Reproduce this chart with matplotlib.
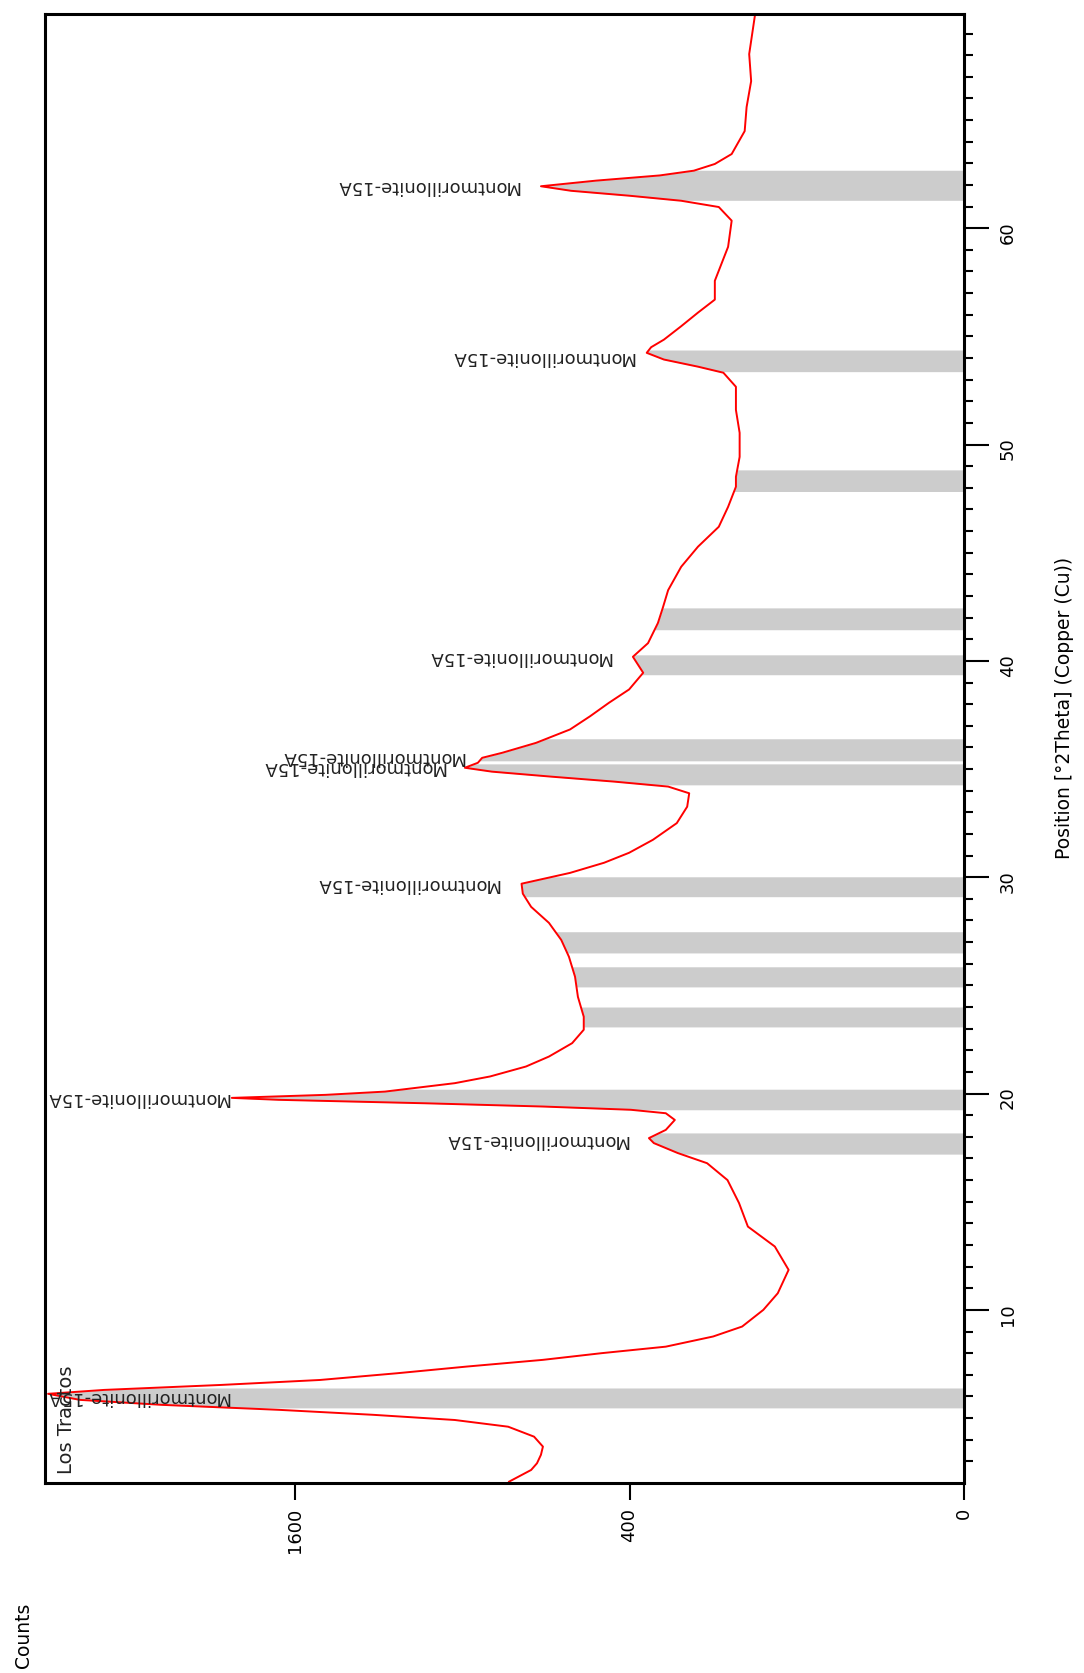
import numpy as np
import matplotlib
matplotlib.use('Agg')
import matplotlib.pyplot as plt

# 2Theta positions (deg) and counts
theta = [2.06, 2.6, 2.91, 3.3, 3.68, 4.14, 4.6, 4.91, 5.15, 5.38, 5.61, 5.84, 6.12, 6.3,
         6.53, 6.76, 7.07, 7.38, 7.69, 8.0, 8.3, 8.77, 9.23, 10.0, 10.77, 11.85, 12.93,
         13.85, 14.94, 16.0, 16.78, 17.25, 17.71, 17.94, 18.32, 18.78, 19.09, 19.25, 19.4,
         19.55, 19.71, 19.8, 19.94, 20.09, 20.48, 20.79, 21.25, 21.71, 22.33, 22.95, 23.55,
         24.47, 25.4, 26.32, 27.1, 27.89, 28.63, 29.24, 29.7, 30.2, 30.67, 31.13, 31.73,
         32.5, 33.26, 33.88, 34.19, 34.42, 34.65, 34.88, 35.06, 35.29, 35.52, 35.75, 36.21,
         36.83, 37.44, 38.06, 38.68, 39.45, 40.19, 40.82, 41.75, 42.48, 43.27, 44.35, 45.28,
         46.2, 47.12, 48.05, 48.51, 49.43, 50.54, 51.6, 52.67, 53.32, 53.6, 53.93, 54.24,
         54.5, 54.85, 55.47, 56.1, 56.7, 57.57, 59.14, 60.35, 60.98, 61.27, 61.5, 61.73,
         61.94, 62.2, 62.44, 62.66, 62.97, 63.43, 64.49, 65.6, 66.8, 68.05, 69.9]
counts = [740, 670, 652, 640, 634, 661, 743, 927, 1249, 1679, 2300, 2795, 3000, 2645,
          1975, 1483, 1150, 884, 634, 469, 318, 225, 176, 144, 124, 110, 128,
          167, 181, 200, 236, 293, 344, 355, 318, 299, 318, 397, 634,
          1036, 1679, 1917, 1457, 1199, 927, 803, 686, 616, 549, 517, 517,
          533, 541, 558, 580, 616, 670, 696, 700, 555, 463, 401, 346,
          295, 274, 270, 313, 438, 610, 797, 891, 845, 830, 763, 655,
          555, 500, 451, 401, 368, 392, 357, 335, 324, 313, 286, 253,
          215, 199, 186, 186, 180, 180, 186, 186, 207, 253, 322, 360,
          350, 322, 286, 253, 222, 222, 199, 193, 215, 286, 399, 552,
          640, 484, 331, 261, 222, 193, 172, 169, 162, 165, 156]

# reference pattern bands (2Theta ranges)
band_lo = [5.47, 17.2, 19.25, 23.08, 24.93, 26.5, 29.1, 34.27, 35.38, 39.36, 41.44, 47.83, 53.37, 61.29]
band_hi = [6.39, 18.18, 20.2, 24.0, 25.86, 27.48, 30.02, 35.24, 36.4, 40.28, 42.45, 48.83, 54.37, 62.68]

label_theta = [5.98, 17.86, 19.8, 29.7, 35.1, 35.57, 40.19, 54.06, 61.94]
label_text = 'Montmorillonite-15A'
sample = 'Los Tractos'
count_ticks = [0, 400, 1600]
theta_ticks = [10, 20, 30, 40, 50, 60]

fig = plt.figure(figsize=(10.84, 16.73), dpi=100)
ax = fig.add_axes([0.0415, 0.1136, 0.8478, 0.878])
ax.set_xscale('function', functions=(lambda v: np.sqrt(np.clip(v, 0, None)),
                                     lambda v: np.square(v)))
ax.set_xlim(3020, 0)
ax.set_ylim(2.0, 69.9)

for lo, hi in zip(band_lo, band_hi):
    t = np.linspace(lo, hi, 40)
    ax.fill_betweenx(t, 0, np.interp(t, theta, counts), color='#cccccc', lw=0, zorder=1)
ax.plot(counts, theta, color='#ff0000', lw=1.4, zorder=2)

for s in ax.spines.values():
    s.set_linewidth(2.2)

ax.set_xticks(count_ticks)
ax.set_xticklabels([str(c) for c in count_ticks])
ax.tick_params(axis='x', bottom=True, top=False, length=12, width=1.5,
               labelsize=13, labelrotation=90, pad=6)
ax.yaxis.tick_right()
ax.set_yticks(theta_ticks)
ax.set_yticks(range(3, 70), minor=True)
ax.tick_params(axis='y', which='major', length=18, width=1.5, labelsize=13,
               labelrotation=90, pad=7)
ax.tick_params(axis='y', which='minor', length=6.5, width=1.5)

anns = []
for th in label_theta:
    c = np.interp(th, theta, counts)
    a = ax.annotate(label_text, xy=(c, th), xytext=(-22, 0), textcoords='offset pixels',
                    rotation=180, ha='right', va='center', fontsize=13, color='#222222',
                    zorder=3)
    anns.append(a)

ax.text(0.013, 0.006, sample, transform=ax.transAxes, rotation=90, ha='left',
        va='bottom', fontsize=14, color='#222222')

fig.text(23 / 1084, 5 / 1673, 'Counts', rotation=90, ha='center', va='bottom', fontsize=13.5)
fig.text(1064 / 1084, 1 - 708 / 1673, 'Position [°2Theta] (Copper (Cu))', rotation=90,
         ha='center', va='center', fontsize=13.5)

# keep labels inside the frame
fig.canvas.draw()
axbox = ax.get_window_extent()
for a in anns:
    ext = a.get_window_extent()
    if ext.x0 < axbox.x0:
        a.xyann = (a.xyann[0] + axbox.x0 + 1 - ext.x0, a.xyann[1])

fig.savefig('out.png', dpi=100)
